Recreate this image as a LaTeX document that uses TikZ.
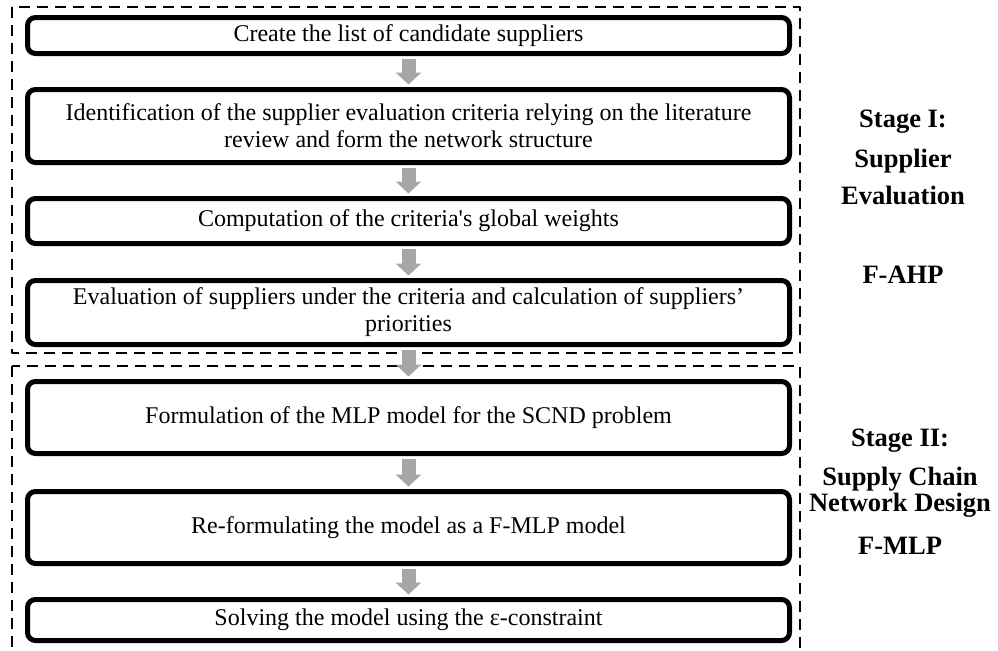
\documentclass[tikz,border=0pt]{standalone}
\usepackage{fontspec}
\setmainfont{Liberation Serif}[Ligatures=TeXOff]
\usetikzlibrary{arrows.meta}
\definecolor{arrowgray}{HTML}{A6A6A6}
\tikzset{
  stepbox/.style={draw, line width=2.5pt, rounded corners=4pt, minimum width=381pt,
    align=center, inner sep=0pt, font=\fontsize{12}{13.5}\selectfont},
  flowarrow/.style={arrowgray, line width=7pt, -{Triangle[width=12.5pt,length=6pt]},
    shorten <=1.25pt, shorten >=1.25pt},
  stagebox/.style={line width=1pt, dash pattern=on 5.5pt off 3.5pt},
  stagelabel/.style={anchor=base, inner sep=0pt, font=\fontsize{13.25}{15}\selectfont\bfseries}
}
\begin{document}
\begin{tikzpicture}[x=0.5pt, y=-0.5pt, line join=round]
  \useasboundingbox (0,0) rectangle (998,650);

  % stage frames
  \draw[stagebox] (12,7) rectangle (800,353);
  \draw[stagebox] (12,366) rectangle (800,680);

  % steps
  \node (b1) at (408.5,35.5) [stepbox, minimum height=18pt] {Create the list of candidate suppliers};
  \node (b2) at (408.5,126) [stepbox, minimum height=36.5pt] {Identification of the supplier evaluation criteria relying on the literature\\ review and form the network structure};
  \node (b3) at (408.5,221) [stepbox, minimum height=22.5pt] {Computation of the criteria\textquotesingle s global weights};
  \node (b4) at (408.5,312.5) [stepbox, minimum height=32pt] {Evaluation of suppliers under the criteria and calculation of suppliers’\\ priorities};
  \node (b5) at (408.5,417.5) [stepbox, minimum height=36pt] {Formulation of the MLP model for the SCND problem};
  \node (b6) at (408.5,527.5) [stepbox, minimum height=36pt] {Re-formulating the model as a F-MLP model};
  \node (b7) at (408.5,620) [stepbox, minimum height=20.5pt] {Solving the model using the ε-constraint};

  \foreach \a/\b in {b1/b2, b2/b3, b3/b4, b4/b5, b5/b6, b6/b7}
    \draw[flowarrow] (\a.south) -- (\b.north);

  % stage labels
  \node (s1a) at (903,127) [stagelabel] {Stage I:};
  \node (s1b) at (903,167) [stagelabel] {Supplier};
  \node (s1c) at (903,204) [stagelabel] {Evaluation};
  \node (s1d) at (903,283) [stagelabel] {F-AHP};

  \node (s2a) at (900,446) [stagelabel] {Stage II:};
  \node (s2b) at (900,485) [stagelabel] {Supply Chain};
  \node (s2c) at (900,511) [stagelabel] {Network Design};
  \node (s2d) at (900,554) [stagelabel] {F-MLP};
\end{tikzpicture}
\end{document}
